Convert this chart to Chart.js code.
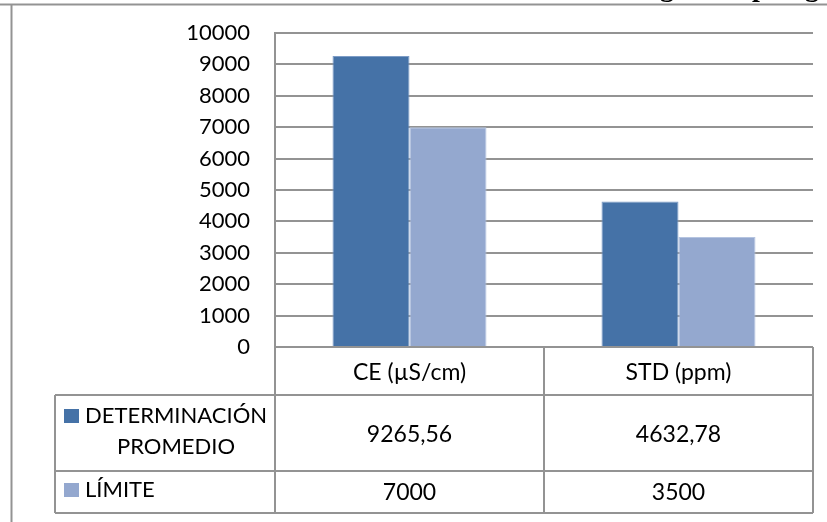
<!DOCTYPE html>
<html>
<head>
<meta charset="utf-8">
<script src="https://cdn.jsdelivr.net/npm/chart.js@4"></script>
<style>
html,body{margin:0;padding:0;background:#fff;}
#wrap{width:827px;height:522px;position:relative;}
</style>
</head>
<body>
<div id="wrap"><canvas id="c" width="827" height="522"></canvas></div>
<script>
const categories = ["CE (µS/cm)", "STD (ppm)"];
const seriesNames = [["DETERMINACIÓN", "PROMEDIO"], ["LÍMITE"]];
const determinacion = [9265.56, 4632.78];
const limite = [7000, 3500];
const tableText = [["9265,56", "4632,78"], ["7000", "3500"]];
const yTicks = [0, 1000, 2000, 3000, 4000, 5000, 6000, 7000, 8000, 9000, 10000];

const FONT = "Lato, 'Open Sans', sans-serif";
const GRID = "#939393";
const DARK = "#4572A7";
const LIGHT = "#94A8CF";

const tablePlugin = {
  id: 'dataTable',
  afterDraw(chart) {
    const ctx = chart.ctx;
    const ca = chart.chartArea;
    const xs = chart.scales.x;
    const c0 = xs.getPixelForValue(0), c1 = xs.getPixelForValue(1);
    const left = ca.left, right = ca.right;
    const mid = (c0 + c1) / 2;
    const top = ca.bottom;
    const hdrB = top + 48;
    const r1B = hdrB + 76;
    const r2B = r1B + 42;
    const legL = 55;
    ctx.save();
    ctx.strokeStyle = GRID;
    ctx.lineWidth = 2;
    const line = (x1, y1, x2, y2) => { ctx.beginPath(); ctx.moveTo(x1, y1); ctx.lineTo(x2, y2); ctx.stroke(); };
    // chart frame
    line(0, 4.5, 827, 4.5);
    line(11.5, 4, 11.5, 522);
    // table
    line(left, top, right, top);
    line(legL, hdrB, right, hdrB);
    line(legL, r1B, right, r1B);
    line(legL, r2B, right, r2B);
    line(legL, hdrB, legL, r2B);
    line(left, ca.top, left, r2B);
    line(mid, top, mid, r2B);
    line(right, top, right, r2B);
    // texts
    ctx.fillStyle = "#000";
    ctx.font = "23px " + FONT;
    ctx.textAlign = "center";
    ctx.textBaseline = "alphabetic";
    const capH = 16.4;
    const centers = [c0, c1];
    categories.forEach((t, i) => ctx.fillText(t, centers[i], top + 25 + capH / 2));
    tableText[0].forEach((t, i) => ctx.fillText(t, centers[i], (hdrB + r1B) / 2 + 1 + capH / 2));
    tableText[1].forEach((t, i) => ctx.fillText(t, centers[i], (r1B + r2B) / 2 - 0.5 + capH / 2));
    // legend cells
    ctx.font = "22px " + FONT;
    const capL = 15.8;
    ctx.fillStyle = DARK;
    ctx.fillRect(64, hdrB + 14, 15, 14);
    ctx.fillStyle = LIGHT;
    ctx.fillRect(64, r1B + 12, 15, 14);
    ctx.fillStyle = "#000";
    ctx.textAlign = "left";
    ctx.fillText(seriesNames[0][0], 85, hdrB + 20 + capL / 2);
    ctx.textAlign = "center";
    ctx.fillText(seriesNames[0][1], 176, hdrB + 51 + capL / 2);
    ctx.textAlign = "left";
    ctx.fillText(seriesNames[1][0], 85, (r1B + r2B) / 2 - 2.5 + capL / 2);
    // cut-off heading text above the frame
    ctx.font = "bold 28px 'Liberation Serif', serif";
    ctx.save();
    ctx.beginPath(); ctx.rect(0, 0, 827, 3.5); ctx.clip();
    ctx.fillText("g", 660, -4);
    ctx.fillText("p", 752, -4);
    ctx.fillText("g", 805, -4);
    ctx.restore();
    ctx.restore();
  }
};

new Chart(document.getElementById('c'), {
  type: 'bar',
  data: {
    labels: categories,
    datasets: [
      { label: seriesNames[0].join(' '), data: determinacion, backgroundColor: DARK, borderColor: "#7D9CC6", borderWidth: 1 },
      { label: seriesNames[1][0], data: limite, backgroundColor: LIGHT, borderColor: "#B5C4E0", borderWidth: 1 }
    ]
  },
  options: {
    responsive: false,
    animation: false,
    devicePixelRatio: 1,
    layout: { padding: { left: 0, right: 14, top: 33, bottom: 175 } },
    plugins: { legend: { display: false }, tooltip: { enabled: false }, title: { display: false } },
    datasets: { bar: { barPercentage: 1, categoryPercentage: 0.5725 } },
    scales: {
      x: { display: false },
      y: {
        min: 0, max: 10000,
        afterFit(s) { s.width = 275; s.paddingTop = 0; s.paddingBottom = 0; },
        afterBuildTicks(s) { s.ticks = yTicks.map(v => ({ value: v })); },
        ticks: { color: "#000", font: { family: FONT, size: 22 }, padding: 25, callback: (v) => String(v) },
        grid: { color: GRID, lineWidth: 2, drawTicks: false },
        border: { display: true, color: GRID, width: 2 }
      }
    }
  },
  plugins: [tablePlugin]
});
</script>
</body>
</html>
